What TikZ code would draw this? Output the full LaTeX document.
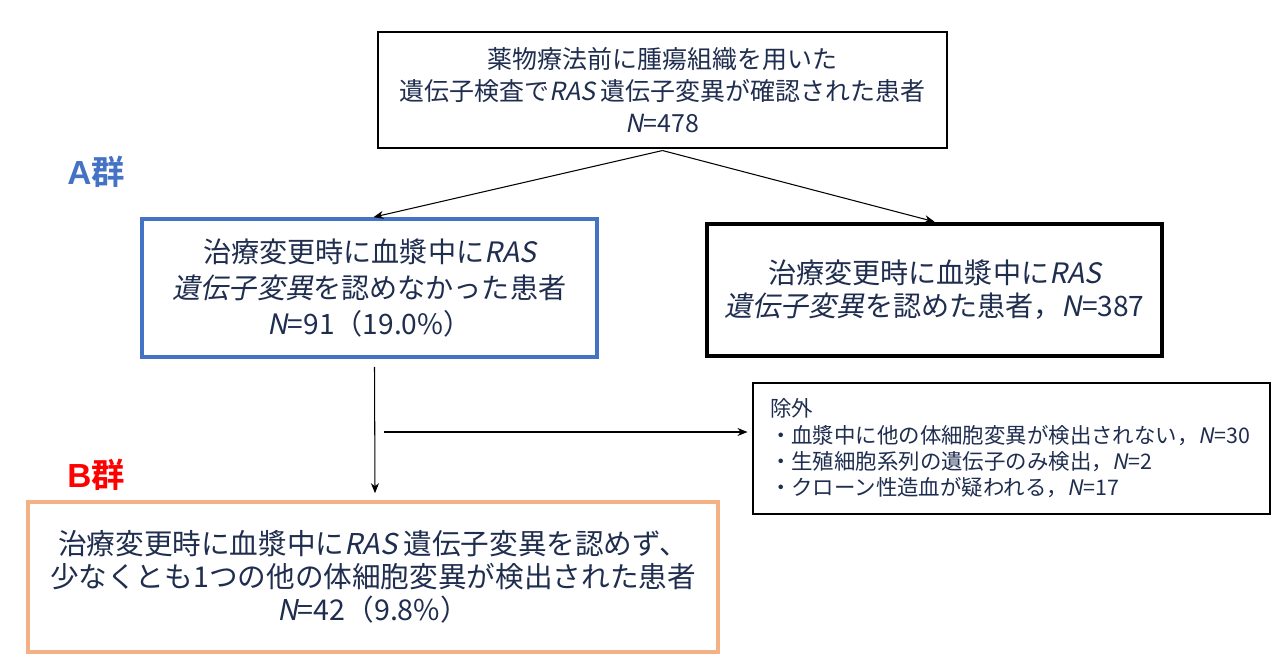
\documentclass[tikz,border=0pt]{standalone}
\usepackage{fontspec}
\setmainfont{Noto Sans CJK JP}[ItalicFont={Noto Sans CJK JP}, ItalicFeatures={FakeSlant=0.2}, BoldFont={Noto Sans CJK JP Bold}]
\newfontfamily\latinbold{Liberation Sans Bold}
\usepackage{xcolor}
\usepackage{tikz}
\usetikzlibrary{arrows.meta,positioning,calc}

\definecolor{txtnavy}{HTML}{1F2D4F}
\definecolor{grpblue}{HTML}{4472C4}
\definecolor{grporange}{HTML}{F4B183}
\definecolor{grpred}{HTML}{FF0000}

\begin{document}
\begin{tikzpicture}[x=0.02cm, y=-0.02cm,
  box/.style={draw, inner sep=0pt, align=center, text=txtnavy},
  big/.style={font=\fontsize{16}{20.4}\selectfont},
  grp/.style={font=\fontsize{19}{22}\selectfont\bfseries},
  link/.style={-{Stealth[length=2mm, width=1.6mm]}, line width=0.6pt},
]
  \useasboundingbox (0,0) rectangle (1283,663);

  % Starting population.
  \node[box, line width=0.6pt, minimum width=569*0.02cm, minimum height=116*0.02cm,
        font=\fontsize{14.2}{18}\selectfont] (start) at (662.5,90)
    {薬物療法前に腫瘍組織を用いた\\遺伝子検査で\textit{RAS} 遺伝子変異が確認された患者\\\textit{N}=478};

  % Plasma result split.
  \node[box, big, draw=grpblue, line width=2.1pt, minimum width=455*0.02cm, minimum height=138*0.02cm]
    (noras) at (369.5,288)
    {治療変更時に血漿中に\textit{RAS}\\\textit{遺伝子変異}を認めなかった患者\\\textit{N}=91（19.0\%）};
  \node[box, big, line width=2.6pt, minimum width=455*0.02cm, minimum height=132*0.02cm,
        font=\fontsize{16}{18.7}\selectfont]
    (ras) at (934.5,290)
    {治療変更時に血漿中に\textit{RAS}\\\textit{遺伝子変異}を認めた患者，\textit{N}=387};

  % Exclusions.
  \node[box, line width=0.6pt, align=left, text width=483*0.02cm, inner xsep=17*0.02cm,
        minimum height=131*0.02cm, font=\fontsize{12.2}{15}\selectfont]
    (excl) at (1011.5,448.5)
    {除外\\・血漿中に他の体細胞変異が検出されない，\textit{N}=30\\・生殖細胞系列の遺伝子のみ検出，\textit{N}=2\\・クローン性造血が疑われる，\textit{N}=17};

  % Analysis group B.
  \node[box, draw=grporange, line width=2.1pt, minimum width=690*0.02cm, minimum height=150*0.02cm,
        font=\fontsize{16.3}{18.7}\selectfont]
    (grpB) at (373,577)
    {治療変更時に血漿中に\textit{RAS} 遺伝子変異を認めず、\\少なくとも1つの他の体細胞変異が検出された患者\\\textit{N}=42（9.8\%）};

  % Group labels.
  \node[grp, text=grpblue] (labA) at (96,172) {{\latinbold A}群};
  \node[grp, text=grpred]  (labB) at (96,475) {{\latinbold B}群};

  % Connectors.
  \coordinate (split) at ($(start.south)+(0,2)$);
  \draw[link] (split) -- ($(noras.north)+(4,0)$);
  \draw[link] (split) -- (ras.north);
  \draw[link] ($(noras.south)+(5,8)$) -- ($(grpB.north)+(2,-7)$);
  \coordinate (hstart) at (384,432);
  \draw[link, shorten >=0.1cm] (hstart) -- (excl.west |- hstart);
\end{tikzpicture}
\end{document}
